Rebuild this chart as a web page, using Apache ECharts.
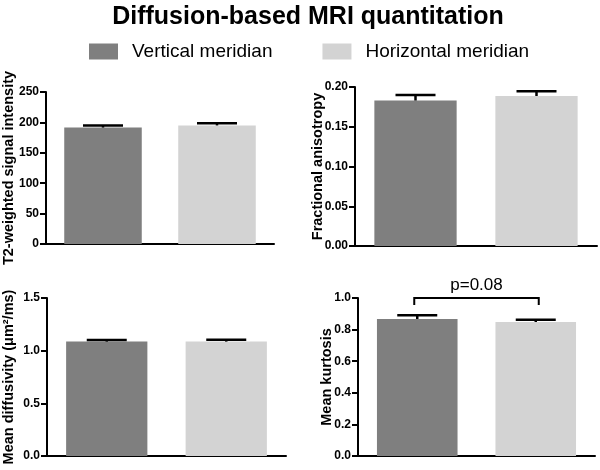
<!DOCTYPE html>
<html><head><meta charset="utf-8">
<script src="https://cdn.jsdelivr.net/npm/echarts@6/dist/echarts.min.js"></script>
<style>html,body{margin:0;padding:0;background:#fff}#c{width:600px;height:470px}</style>
</head><body><div id="c"></div>
<script>
var title = 'Diffusion-based MRI quantitation';
var groups = ['Vertical meridian', 'Horizontal meridian'];
var categories = ['Vertical', 'Horizontal'];
var panelNames = ['T2-weighted signal intensity', 'Fractional anisotropy', 'Mean diffusivity (μm²/ms)', 'Mean kurtosis'];
var meanT2 = [191.5, 195];
var errT2 = [195, 198.6];
var meanFA = [0.183, 0.1887];
var errFA = [0.1899, 0.1945];
var meanMD = [1.086, 1.086];
var errMD = [1.102, 1.104];
var meanMK = [0.867, 0.848];
var errMK = [0.891, 0.863];
var yMax = [250, 0.2, 1.5, 1.0];
var yStep = [50, 0.05, 0.5, 0.2];
var yDecimals = [0, 2, 1, 1];
var pLabel = 'p=0.08';
var bracketTop = 1.0;
var bracketBottom = 0.955;

var FONT = 'Arial, "Liberation Sans", sans-serif';
var colors = ['#7f7f7f', '#d3d3d3'];
var means = [meanT2, meanFA, meanMD, meanMK];
var errs = [errT2, errFA, errMD, errMK];
var grids = [
  {left: 45, top: 92, right: 326, bottom: 226},
  {left: 355, top: 87, right: 3, bottom: 224},
  {left: 47, top: 298, right: 314, bottom: 14},
  {left: 358, top: 298, right: 5, bottom: 14}
];
var nameGaps = [30, 30, 31, 24];

var xAxes = [], yAxes = [], series = [];
for (var i = 0; i < 4; i++) {
  xAxes.push({
    type: 'category', gridIndex: i, data: categories,
    axisLine: {lineStyle: {color: '#000', width: 2}},
    axisTick: {alignWithLabel: true, length: 5, lineStyle: {color: '#000', width: 2}},
    axisLabel: {show: false}
  });
  (function(d){
    yAxes.push({
      type: 'value', gridIndex: i, min: 0, max: yMax[i], interval: yStep[i],
      name: panelNames[i], nameLocation: 'middle', nameGap: nameGaps[i], nameMoveOverlap: false,
      nameTextStyle: {fontFamily: FONT, fontWeight: 'bold', fontSize: 14.5, color: '#000'},
      axisLine: {show: true, lineStyle: {color: '#000', width: 2}},
      axisTick: {show: true, length: 6, lineStyle: {color: '#000', width: 2}},
      axisLabel: {fontFamily: FONT, fontWeight: 'bold', fontSize: 12, color: '#000', margin: 7,
        formatter: function(v){ return v.toFixed(d); }},
      splitLine: {show: false}
    });
  })(yDecimals[i]);
  for (var g = 0; g < 2; g++) {
    var d = ['-', '-'];
    d[g] = means[i][g];
    series.push({
      type: 'bar', name: groups[g], xAxisIndex: i, yAxisIndex: i,
      data: d, barWidth: '68%', barGap: '-100%',
      itemStyle: {color: colors[g]}, z: 2
    });
  }
  series.push({
    type: 'custom', xAxisIndex: i, yAxisIndex: i, z: 5,
    data: categories.map(function(c, k){ return [k, means[i][k], errs[i][k]]; }),
    renderItem: function(params, api) {
      var p0 = api.coord([api.value(0), api.value(1)]);
      var p1 = api.coord([api.value(0), api.value(2)]);
      var hw = 20;
      return {type: 'group', children: [
        {type: 'line', shape: {x1: p0[0], y1: p0[1], x2: p1[0], y2: p1[1]}, style: {stroke: '#000', lineWidth: 2.5}},
        {type: 'line', shape: {x1: p1[0]-hw, y1: p1[1], x2: p1[0]+hw, y2: p1[1]}, style: {stroke: '#000', lineWidth: 2.5}}
      ]};
    }
  });
}
// significance bracket on panel 4
series.push({
  type: 'custom', xAxisIndex: 3, yAxisIndex: 3, z: 6, clip: false,
  data: [[0, 1, bracketTop, bracketBottom]],
  renderItem: function(params, api) {
    var a = api.coord([api.value(0), api.value(3)]);
    var b = api.coord([api.value(0), api.value(2)]);
    var c = api.coord([api.value(1), api.value(2)]);
    var e = api.coord([api.value(1), api.value(3)]);
    var shift = 3;
    return {type: 'group', children: [
      {type: 'polyline', shape: {points: [[a[0]-shift, a[1]], [b[0]-shift, b[1]], [c[0]+shift, c[1]], [e[0]+shift, e[1]]]},
        style: {stroke: '#000', lineWidth: 2, fill: null}},
      {type: 'text', x: (b[0]+c[0])/2, y: b[1]-4,
        style: {text: pLabel, fontFamily: FONT, fontSize: 17, fill: '#000', align: 'center', verticalAlign: 'bottom'}}
    ]};
  }
});

var chart = echarts.init(document.getElementById('c'), null, {renderer: 'canvas'});
chart.setOption({
  animation: false,
  backgroundColor: '#fff',
  title: {text: title, left: 303, textAlign: 'center', top: 0,
    textStyle: {fontFamily: FONT, fontWeight: 'bold', fontSize: 25, color: '#000'}},
  legend: {data: groups, left: 84, top: 37, itemWidth: 29, itemHeight: 16, itemGap: 50,
    icon: 'rect',
    textStyle: {fontFamily: FONT, fontSize: 19, color: '#000', padding: [0, 0, 0, 9]}},
  grid: grids,
  xAxis: xAxes,
  yAxis: yAxes,
  series: series
});
</script></body></html>
